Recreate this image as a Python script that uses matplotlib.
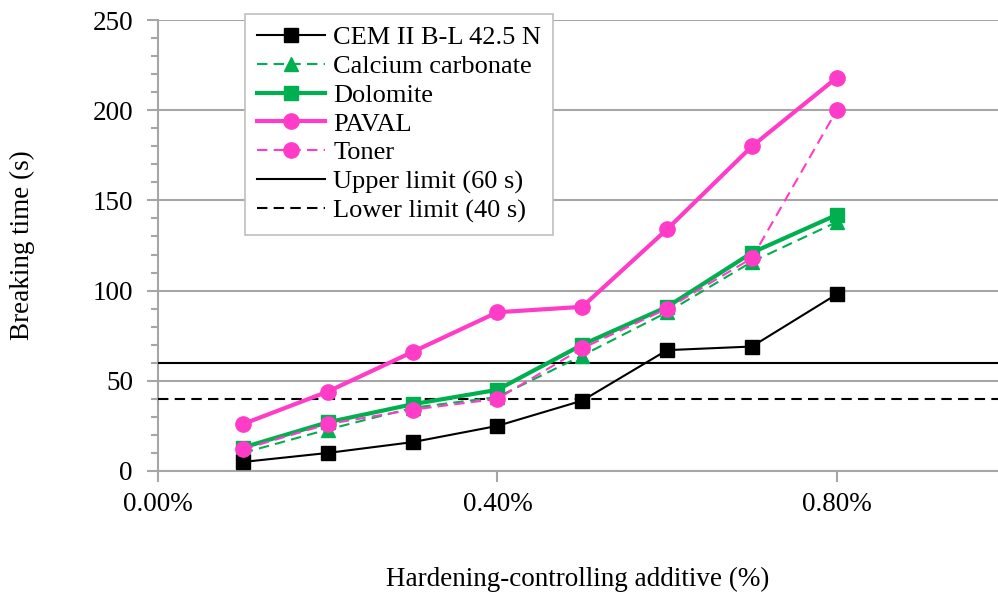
import numpy as np
import matplotlib
matplotlib.use("Agg")
import matplotlib.pyplot as plt
from matplotlib.ticker import MultipleLocator, FuncFormatter

plt.rcParams['font.family'] = ['Liberation Serif', 'DejaVu Serif']

# additive dosage (%) and breaking times (s)
additive = [0.1, 0.2, 0.3, 0.4, 0.5, 0.6, 0.7, 0.8]
cem = [5, 10, 16, 25, 39, 67, 69, 98]
calcium = [10, 23, 35, 41, 64, 88, 116, 138]
dolomite = [13, 27, 37, 45, 70, 91, 121, 142]
paval = [26, 44, 66, 88, 91, 134, 180, 218]
toner = [12, 26, 34, 40, 68, 90, 118, 200]
upper_limit = 60
lower_limit = 40

green = '#00B050'
pink = '#FF3CC8'
grid_col = '#A6A6A6'

fig = plt.figure(figsize=(9.98, 5.96), dpi=100)
ax = fig.add_axes([158/998, 1-471/596, 1-158/998, (471-20)/596])

ax.plot(additive, cem, color='black', lw=1.5, marker='s', ms=10, label='CEM II B-L 42.5 N', zorder=5)
ax.plot(additive, calcium, color=green, lw=1.5, ls=(0, (5, 3)), marker='^', ms=10, label='Calcium carbonate', zorder=4)
ax.plot(additive, dolomite, color=green, lw=3, marker='s', ms=10, label='Dolomite', zorder=4)
ax.plot(additive, paval, color=pink, lw=3, marker='o', ms=11, label='PAVAL', zorder=4)
ax.plot(additive, toner, color=pink, lw=1.5, ls=(0, (5, 3)), marker='o', ms=11, label='Toner', zorder=6)
ax.axhline(upper_limit, color='black', lw=1.5, label='Upper limit (60 s)', zorder=3)
ax.axhline(lower_limit, color='black', lw=1.5, ls=(0, (5, 3)), label='Lower limit (40 s)', zorder=3)

ax.set_xlim(0, 0.99)
ax.set_ylim(0, 250)
ax.set_xticks([0, 0.4, 0.8])
ax.xaxis.set_major_formatter(FuncFormatter(lambda v, p: '%.2f%%' % v))
ax.yaxis.set_major_locator(MultipleLocator(50))
ax.yaxis.set_minor_locator(MultipleLocator(10))
ax.grid(axis='y', which='major', color=grid_col, lw=1.5, zorder=0)
ax.set_axisbelow(True)

for s in ['top', 'right']:
    ax.spines[s].set_visible(False)
for s in ['left', 'bottom']:
    ax.spines[s].set_color(grid_col)
    ax.spines[s].set_linewidth(1.5)

ax.tick_params(axis='both', which='major', direction='out', length=8, width=1.5,
               color=grid_col, labelsize=19.5, labelcolor='black')
ax.tick_params(axis='y', which='minor', direction='out', length=5, width=1.5, color=grid_col)
ax.tick_params(axis='x', pad=7)
ax.tick_params(axis='y', pad=10)

ax.set_xlabel('Hardening-controlling additive (%)', fontsize=19.5)
ax.xaxis.set_label_coords(0.5, (471-579)/451)
ax.xaxis.label.set_va('center')
ax.set_ylabel('Breaking time (s)', fontsize=19.5)
ax.yaxis.set_label_coords((22-158)/840, (471-245)/451)
ax.yaxis.label.set_va('center')

leg = ax.legend(loc='upper left', bbox_to_anchor=((245-158)/840, (471-14)/451), borderaxespad=0,
                fontsize=19, frameon=True, fancybox=False, edgecolor='#BFBFBF', framealpha=1,
                handlelength=2.6, labelspacing=0.2, borderpad=0.45, handletextpad=0.3)
leg.get_frame().set_linewidth(1.2)

fig.savefig('out.png', dpi=100)
